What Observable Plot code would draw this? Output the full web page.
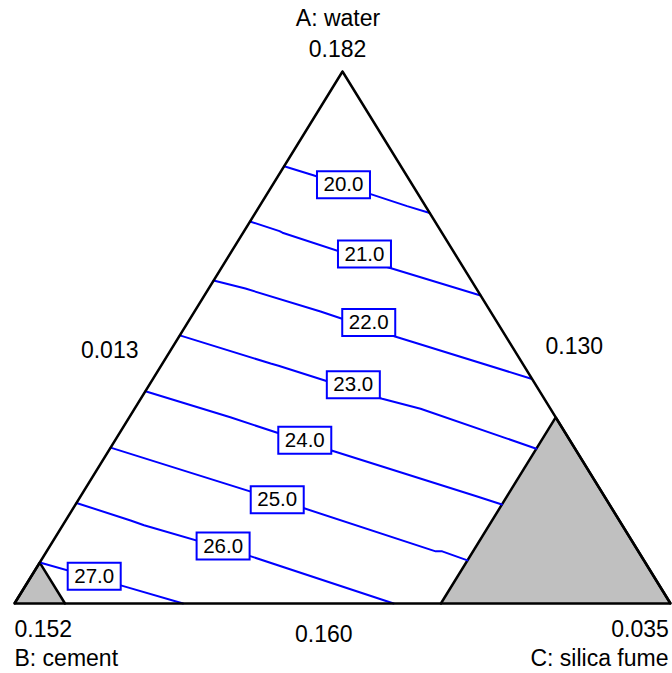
<!DOCTYPE html>
<html><head><meta charset="utf-8">
<script src="https://cdn.jsdelivr.net/npm/d3@7"></script>
<script src="https://cdn.jsdelivr.net/npm/@observablehq/plot@0.6"></script>
<style>html,body{margin:0;padding:0;background:#fff;overflow:hidden}</style>
</head><body><div id="chart"></div>
<script>
// Ternary compositions as [A: water, B: cement, C: silica fume] pseudo-fractions
const levels = [20, 21, 22, 23, 24, 25, 26, 27];
const contour20 = [[0.822,0.178,0],[0.805,0.142,0.053],[0.771,0.075,0.154],[0.747,0.028,0.225],[0.734,0,0.266]];
const contour21 = [[0.718,0.282,0],[0.700,0.246,0.054],[0.697,0.243,0.060],[0.632,0.115,0.253],[0.579,0,0.421]];
const contour22 = [[0.607,0.393,0],[0.592,0.352,0.056],[0.549,0.259,0.192],[0.502,0.169,0.329],[0.493,0.150,0.357],[0.422,0,0.578]];
const contour23 = [[0.504,0.496,0],[0.451,0.384,0.165],[0.447,0.374,0.179],[0.385,0.247,0.368],[0.366,0.198,0.436],[0.310,0.094,0.596],[0.291,0.059,0.650]];
const contour24 = [[0.399,0.601,0],[0.350,0.496,0.154],[0.288,0.374,0.338],[0.202,0.196,0.602],[0.186,0.164,0.650]];
const contour25 = [[0.293,0.707,0],[0.247,0.611,0.142],[0.179,0.469,0.352],[0.098,0.309,0.593],[0.098,0.299,0.603],[0.081,0.269,0.650]];
const contour26 = [[0.189,0.811,0],[0.156,0.745,0.099],[0.147,0.729,0.124],[0.090,0.598,0.312],[0,0.422,0.578]];
const contour27 = [[0.077,0.923,0],[0.034,0.821,0.145],[0,0.743,0.257]];
const labelPoints = [[0.787,0.105,0.108],[0.657,0.138,0.205],[0.528,0.196,0.276],[0.411,0.278,0.311],[0.307,0.404,0.289],[0.195,0.502,0.303],[0.108,0.628,0.264],[0.051,0.853,0.096]];

// Infeasible (constraint) regions
const excludedB = [[0,1,0],[0.077,0.923,0],[0,0.923,0.077]];
const excludedC = [[0,0,1],[0.35,0,0.65],[0,0.35,0.65]];

const vertexNames = ["A: water", "B: cement", "C: silica fume"];
const vertexValues = ["0.182", "0.152", "0.035"];
const edgeValues = ["0.013", "0.130", "0.160"]; // left, right, bottom

const contours = [contour20, contour21, contour22, contour23, contour24, contour25, contour26, contour27];
const rows = contours.flatMap((pts, i) => pts.map(p => ({level: levels[i], a: p[0], b: p[1], c: p[2]})));
const labels = labelPoints.map((p, i) => ({a: p[0], b: p[1], c: p[2], text: levels[i].toFixed(1)}));

const tx = d => d[2] + d[0] / 2;
const ty = d => d[0];
const outline = [[1,0,0],[0,1,0],[0,0,1],[1,0,0]];

const blue = "#0000ff";
const font = 23;
function ann(point, text, dx, dy, anchor = "middle") {
  return Plot.text([point], {x: tx, y: ty, text: () => text, dx, dy, textAnchor: anchor, fontSize: font, fill: "black"});
}
const boxSymbol = {draw(ctx) { ctx.rect(-26.5, -13.5, 53, 27); }};

const chart = Plot.plot({
  width: 672, height: 673,
  marginLeft: 14, marginRight: 2, marginTop: 71, marginBottom: 70,
  x: {domain: [0, 1], axis: null},
  y: {domain: [0, 1], axis: null},
  style: {fontFamily: "'Liberation Sans', Arial, sans-serif", background: "white", overflow: "visible"},
  marks: [
    Plot.line(excludedB, {x: tx, y: ty, fill: "#c0c0c0", stroke: "black", strokeWidth: 2.5, strokeLinejoin: "miter"}),
    Plot.line(excludedC, {x: tx, y: ty, fill: "#c0c0c0", stroke: "black", strokeWidth: 2.5, strokeLinejoin: "miter"}),
    Plot.line(rows, {x: d => d.c + d.a / 2, y: d => d.a, z: "level", stroke: blue, strokeWidth: 2, strokeLinejoin: "miter"}),
    Plot.line(outline, {x: tx, y: ty, stroke: "black", strokeWidth: 2.5, strokeLinejoin: "miter"}),
    Plot.dot(labels, {x: d => d.c + d.a / 2, y: d => d.a, symbol: boxSymbol, fill: "white", stroke: blue, strokeWidth: 2}),
    Plot.text(labels, {x: d => d.c + d.a / 2, y: d => d.a, text: "text", fontSize: 20.5, fill: "black"}),
    ann([1,0,0], vertexNames[0], -4.5, -52.4),
    ann([1,0,0], vertexValues[0], -5, -21.7),
    ann([0,1,0], vertexValues[1], 0, 26.6, "start"),
    ann([0,1,0], vertexNames[1], 0, 55.6, "start"),
    ann([0,0,1], vertexValues[2], -1.7, 26.6, "end"),
    ann([0,0,1], vertexNames[2], -2, 55.6, "end"),
    ann([0.5,0.5,0], edgeValues[0], -68.8, 12.9),
    ann([0.5,0,0.5], edgeValues[1], 67.8, 8.9),
    ann([0,0.5,0.5], edgeValues[2], -18.7, 31.3)
  ]
});
document.getElementById("chart").appendChild(chart);
</script></body></html>
